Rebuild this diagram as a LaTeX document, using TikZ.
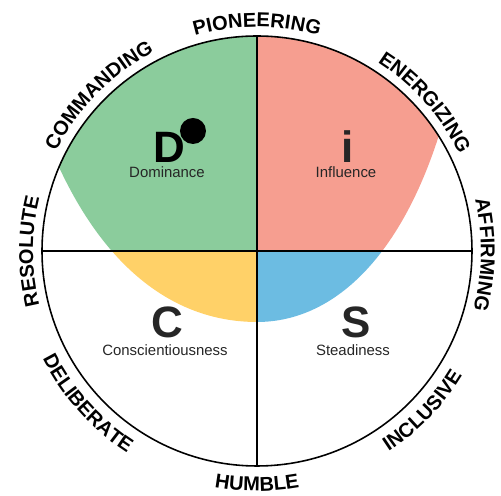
\documentclass[tikz,border=0pt]{standalone}
\usepackage{fontspec}
\setmainfont{Liberation Sans}
\usepackage{tikz}
\usetikzlibrary{decorations.text}

\definecolor{domgreen}{RGB}{139,204,156}
\definecolor{inflred}{RGB}{246,158,144}
\definecolor{consyellow}{RGB}{255,209,104}
\definecolor{steadblue}{RGB}{108,188,226}
\definecolor{textgray}{RGB}{38,38,38}

\newcommand{\ringfont}{\fontsize{11.4}{13}\selectfont\bfseries}

\begin{document}
\begin{tikzpicture}[
    x=0.02cm, y=0.02cm,
    letter/.style={font=\fontsize{25}{25}\selectfont\bfseries, anchor=base, inner sep=0pt},
    caption/.style={font=\fontsize{8.5}{10}\selectfont, anchor=base, inner sep=0pt, text=textgray},
    ringtext/.style={decorate, decoration={text along path, text align=center, text={|\ringfont|#1}}}
]
    \useasboundingbox (-257,-245) rectangle (244,251);

    % Coloured bowl, cut into the four quadrants.
    \begin{scope}
        \clip (0,0) circle[radius=215];
        \clip (-206,102) .. controls (-155,-20) and (-80,-71) .. (0,-71)
            .. controls (80,-71) and (150,0) .. (188,136)
            -- (188,260) -- (-206,260) -- cycle;
        \fill[domgreen] (-215,0) rectangle (0,215);
        \fill[inflred] (0,0) rectangle (215,215);
        \fill[consyellow] (-215,-215) rectangle (0,0);
        \fill[steadblue] (0,-215) rectangle (215,0);
    \end{scope}

    % Circle and axes.
    \coordinate (O) at (0,0);
    \draw[line width=0.9pt] (O) circle[radius=215];
    \draw[line width=0.8pt] (180:215) -- (0:215);
    \draw[line width=0.8pt] (90:215) -- (270:215);

    % Quadrant letters.
    \node[letter] (d) at (-88,88) {D};
    \fill (-64,120) circle[radius=13];
    \node[letter, text=textgray] (i) at (91,88) {i};
    \node[letter, text=textgray] (c) at (-90,-87) {C};
    \node[letter, text=textgray] (s) at (99,-87) {S};

    \node[caption] (dominance) at (-90,73) {Dominance};
    \node[caption] (influence) at (89,73) {Influence};
    \node[caption] (conscientiousness) at (-92,-105) {Conscientiousness};
    \node[caption] (steadiness) at (96,-105) {Steadiness};

    % Words round the rim.
    \path[ringtext=PIONEERING] (125:224) arc[start angle=125, end angle=55, radius=224];
    \path[ringtext=ENERGIZING] (76.5:224) arc[start angle=76.5, end angle=6.5, radius=224];
    \path[ringtext=AFFIRMING] (34:224) arc[start angle=34, end angle=-36, radius=224];
    \path[ringtext=COMMANDING] (170.5:224) arc[start angle=170.5, end angle=100.5, radius=224];
    \path[ringtext=RESOLUTE] (215:224) arc[start angle=215, end angle=145, radius=224];
    \path[ringtext=INCLUSIVE] (-79:240) arc[start angle=-79, end angle=-9, radius=240];
    \path[ringtext=HUMBLE] (-125:240) arc[start angle=-125, end angle=-55, radius=240];
    \path[ringtext=DELIBERATE] (-173:240) arc[start angle=-173, end angle=-103, radius=240];
\end{tikzpicture}
\end{document}
